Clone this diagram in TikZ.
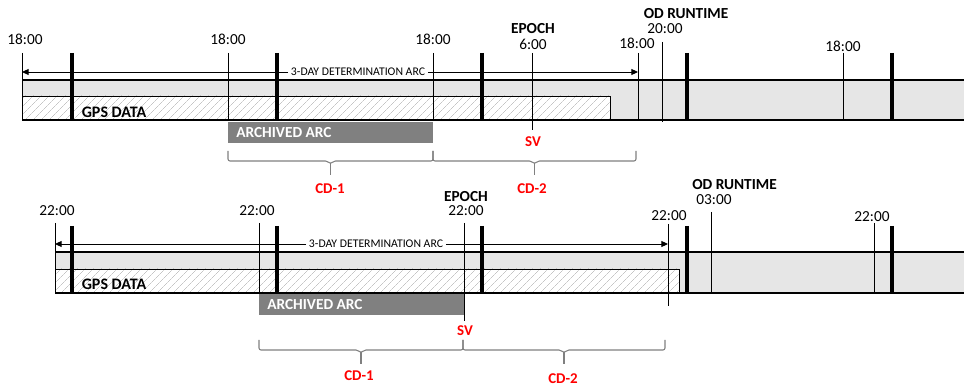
\documentclass[tikz,border=0pt]{standalone}
\usepackage{fontspec}
\setmainfont{Carlito}
\usetikzlibrary{patterns.meta,arrows.meta}
\definecolor{bandgray}{HTML}{E6E6E6}
\definecolor{arcgray}{HTML}{808080}
\definecolor{cdred}{HTML}{FF0000}

\tikzset{
  barline/.style={line width=0.8pt},
  thinline/.style={line width=0.7pt},
  dayline/.style={line width=2.5pt},
  hatchbox/.style={draw=black, line width=0.7pt, preaction={fill=white},
    pattern={Lines[angle=45,distance=4pt,line width=0.4pt]}, pattern color=gray!45},
  timelbl/.style={anchor=base, inner sep=0pt, font=\fontsize{11.5}{12}\selectfont},
  headlbl/.style={anchor=base, inner sep=0pt, font=\bfseries\fontsize{11.5}{12}\selectfont},
  redlbl/.style={anchor=base, inner sep=0pt, text=cdred, font=\bfseries\fontsize{11.2}{12}\selectfont},
  arclbl/.style={fill=white, inner sep=2pt, font=\fontsize{8.8}{9}\selectfont},
  archlbl/.style={anchor=base west, inner sep=0pt, text=white, font=\bfseries\fontsize{11.5}{12}\selectfont},
  arcarrow/.style={line width=0.7pt, -{Triangle[length=5pt,width=4.5pt]}},
  cdbrace/.style={draw=arcgray, line width=0.8pt, rounded corners=1.5pt}
}

\begin{document}
\begin{tikzpicture}[x=0.75pt,y=-0.75pt]
  \useasboundingbox (0,0) rectangle (964,388);

  % ---- top timeline ----
  \fill[bandgray] (22,80) rectangle (964,120);
  \draw[hatchbox] (22,96) rectangle (610,120);
  \draw[barline] (22,80) -- (964,80) (22,120) -- (964,120);
  \foreach \x in {22,228,433,638,843} \draw[thinline] (\x,53) -- (\x,120);
  \foreach \x in {72,277,482,687,892} \draw[dayline] (\x,53) -- (\x,120);
  \draw[thinline] (532,53) -- (532,130); % epoch
  \draw[thinline] (662,42) -- (662,122); % od runtime

  \node[timelbl] (tA1) at (25,45) {18:00};
  \node[timelbl] (tA2) at (228,45) {18:00};
  \node[timelbl] (tA3) at (433,45) {18:00};
  \node[timelbl] (tA4) at (637,48.3) {18:00};
  \node[timelbl] (tA5) at (843,51.7) {18:00};
  \node[headlbl] (epochA) at (533,34) {EPOCH};
  \node[timelbl] (epochtA) at (533,49.3) {6:00};
  \node[headlbl] (odA) at (686,19) {OD RUNTIME};
  \node[timelbl] (odtA) at (665,34) {20:00};

  % determination arc
  \coordinate (arcAl) at (22,72);
  \coordinate (arcAr) at (638,72);
  \node[arclbl] (arcA) at (358,72) {3-DAY DETERMINATION ARC};
  \draw[arcarrow] (arcA) -- (arcAl);
  \draw[arcarrow] (arcA) -- (arcAr);

  \node[headlbl, font=\bfseries\fontsize{12}{12}\selectfont] (gpsA) at (114,117.3) {GPS DATA};
  \fill[arcgray] (228,122) rectangle (433,143);
  \node[archlbl] (archA) at (236,137.7) {ARCHIVED ARC};
  \node[redlbl] (svA) at (533,146.7) {SV};

  % cd windows
  \foreach \xa/\xb/\yt in {228/433/151, 433/636/151, 259/463/340, 463/665/340} {
    \pgfmathsetmacro\xm{(\xa+\xb)/2}
    \draw[cdbrace] (\xa,\yt) -- (\xa,\yt+10) -- (\xm-3,\yt+10) -- (\xm,\yt+13)
      -- (\xm+3,\yt+10) -- (\xb,\yt+10) -- (\xb,\yt);
    \draw[draw=arcgray, line width=0.8pt] (\xm,\yt+12) -- (\xm,\yt+24);
  }
  \node[redlbl] (cd1A) at (330,194) {CD-1};
  \node[redlbl] (cd2A) at (532,194) {CD-2};

  % ---- bottom timeline ----
  \fill[bandgray] (55,252) rectangle (964,293);
  \draw[hatchbox] (55,269) rectangle (679,293);
  \draw[barline] (55,252) -- (964,252) (55,293) -- (964,293);
  \foreach \x in {55,259,874} \draw[thinline] (\x,223) -- (\x,293);
  \foreach \x in {72,277,482,687,892} \draw[dayline] (\x,226) -- (\x,293);
  \draw[thinline] (464,223) -- (464,321); % epoch
  \draw[thinline] (668,224) -- (668,306);
  \draw[thinline] (711,212) -- (711,293); % od runtime

  \node[timelbl] (tB1) at (57,216) {22:00};
  \node[timelbl] (tB2) at (257,216) {22:00};
  \node[headlbl] (epochB) at (466,201.7) {EPOCH};
  \node[timelbl] (epochtB) at (466,216) {22:00};
  \node[timelbl] (tB4) at (669,220.7) {22:00};
  \node[headlbl] (odB) at (734.5,190) {OD RUNTIME};
  \node[timelbl] (odtB) at (714,205) {03:00};
  \node[timelbl] (tB5) at (872,222) {22:00};

  % determination arc
  \coordinate (arcBl) at (55,244);
  \coordinate (arcBr) at (668,244);
  \node[arclbl] (arcB) at (376,244) {3-DAY DETERMINATION ARC};
  \draw[arcarrow] (arcB) -- (arcBl);
  \draw[arcarrow] (arcB) -- (arcBr);

  \node[headlbl, font=\bfseries\fontsize{12}{12}\selectfont] (gpsB) at (114,289.3) {GPS DATA};
  \fill[arcgray] (259,294) rectangle (464,315);
  \node[archlbl] (archB) at (267,310) {ARCHIVED ARC};
  \node[redlbl] (svB) at (465,335.7) {SV};

  \node[redlbl] (cd1B) at (359,380.7) {CD-1};
  \node[redlbl] (cd2B) at (563,383) {CD-2};
\end{tikzpicture}
\end{document}
